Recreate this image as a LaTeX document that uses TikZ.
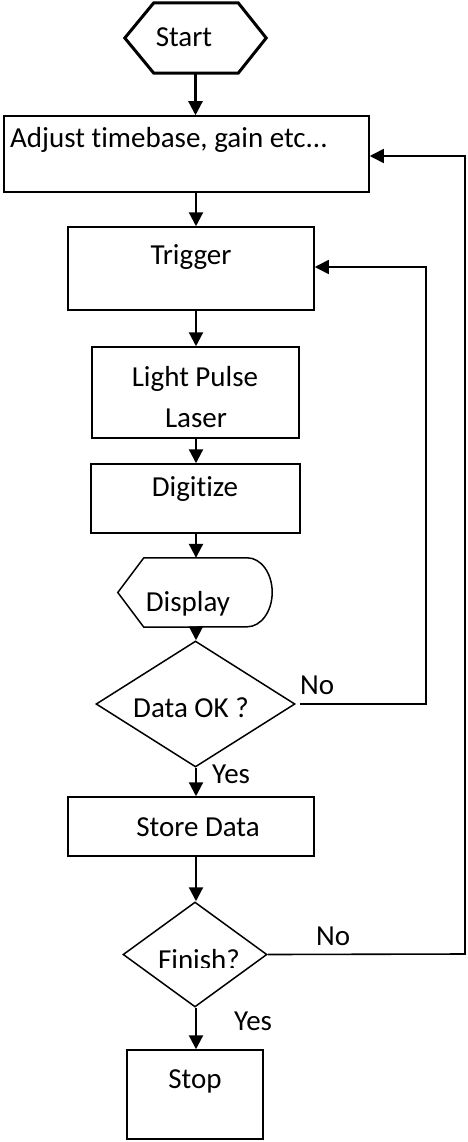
\documentclass[tikz,border=0pt]{standalone}
\usepackage{fontspec}
\setmainfont[Ligatures={NoCommon}]{Carlito}
\usetikzlibrary{shapes.geometric,arrows.meta}
\tikzset{
  box/.style={draw, line width=1.5pt, rectangle, inner sep=0pt},
  decision/.style={draw, line width=1.5pt, diamond, inner sep=0pt},
  frame/.style={inner sep=0pt},
  txt/.style={anchor=base, inner sep=0pt, font=\fontsize{29}{35}\selectfont},
  flow/.style={line width=2.2pt, -{Triangle[length=14pt,width=14pt]}},
  back/.style={line width=1.6pt, -{Triangle[length=14pt,width=14pt]}}
}
\begin{document}
\begin{tikzpicture}[x=1pt,y=-1pt]
\useasboundingbox (0,0) rectangle (468,1142);

% main column
\coordinate (axis) at (196,0);

% start (hexagon outline drawn around an invisible frame)
\node[frame, minimum width=141pt, minimum height=70pt] (start) at (195.5,38) {};
\draw[line width=3pt, line join=miter]
  (start.west) -- ([xshift=29pt]start.north west) -- ([xshift=-28pt]start.north east)
  -- (start.east) -- ([xshift=-28pt]start.south east) -- ([xshift=29pt]start.south west) -- cycle;
\node[txt] (startT) at (184,47) {Start};

\node[box, minimum width=365pt, minimum height=76pt] (adj) at (186.5,154) {};
\node[txt, anchor=base west] (adjT) at (10,148) {Adjust timebase, gain etc...};

\node[box, minimum width=246pt, minimum height=83pt] (trig) at (191,268.5) {};
\node[txt] (trigT) at (191,264) {Trigger};

\node[box, minimum width=207pt, minimum height=91pt] (lpl) at (195.5,392.5) {};
\node[txt] (lplT1) at (195,386) {Light Pulse};
\node[txt] (lplT2) at (196,427) {Laser};

\node[box, minimum width=209pt, minimum height=69pt] (dig) at (195.5,498.5) {};
\node[txt] (digT) at (195,496) {Digitize};

% display symbol
\node[frame, minimum width=154pt, minimum height=69pt] (disp) at (195,592.5) {};
\draw[line width=1.5pt]
  (disp.west) -- ([xshift=26pt]disp.north west) -- ([xshift=-25pt]disp.north east)
  arc[start angle=90, end angle=-90, x radius=25pt, y radius=34.5pt]
  -- ([xshift=26pt]disp.south west) -- cycle;
\node[txt] (dispT) at (188,611) {Display};

\node[decision, minimum width=199pt, minimum height=126pt] (dok) at (195.5,704) {};
\node[txt] (dokT) at (191,717) {Data OK ?};

\node[box, minimum width=246pt, minimum height=59pt] (store) at (191,826.5) {};
\node[txt] (storeT) at (198,836) {Store Data};

\node[decision, minimum width=144pt, minimum height=105pt] (fin) at (195,954.5) {};
\begin{scope}
  \clip (120,900) rectangle (270,967);
  \node[txt] (finT) at (199,969) {Finish?};
\end{scope}

\node[box, minimum width=136pt, minimum height=89pt] (stop) at (195,1094.5) {};
\node[txt] (stopT) at (195,1088) {Stop};

% forward flow
\draw[flow] (start.south) -- (start.south |- adj.north);
\draw[flow] (adj.south -| axis) -- (trig.north -| axis);
\draw[flow] (trig.south -| axis) -- (lpl.north -| axis);
\draw[flow] (lpl.south -| axis) -- (dig.north -| axis);
\draw[flow] (dig.south -| axis) -- (disp.north -| axis);
\draw[flow] (disp.south -| axis) -- (dok.north -| axis);
\draw[flow] (dok.south -| axis) -- (store.north -| axis);
\draw[flow] (store.south -| axis) -- (fin.north -| axis);
\draw[flow] (fin.south -| axis) -- (stop.north -| axis);

% feedback loops
\coordinate (c1) at (426,704);
\coordinate (c2) at (426,267);
\coordinate (c3) at (465,954);
\coordinate (c4) at (465,156);
\draw[back, line join=miter] ([xshift=4pt]dok.east) -- (c1) -- (c2) -- (trig.east |- c2);
\draw[back, line join=miter] (fin.east) -- (c3) -- (c4) -- (adj.east |- c4);

% branch labels
\node[txt, anchor=base west] (no1) at (300,694) {No};
\node[txt, anchor=base west] (yes1) at (212,783) {Yes};
\node[txt, anchor=base west] (no2) at (316,945) {No};
\node[txt, anchor=base west] (yes2) at (234,1030) {Yes};
\end{tikzpicture}
\end{document}
